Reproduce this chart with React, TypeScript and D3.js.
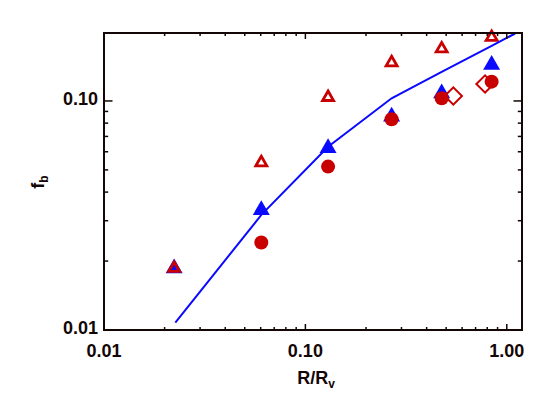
import React, { useEffect, useRef } from "react"
import * as d3 from "d3"

// radial bins (R/Rv) and measured fractions
const radii = [0.0223, 0.0604, 0.1296, 0.268, 0.475, 0.841]
const blueTriangles = [0.0186, 0.0334, 0.0622, 0.0855, 0.108, 0.1437]
const redCircleRadii = [0.0604, 0.1296, 0.268, 0.475, 0.841]
const redCircles = [0.0241, 0.0517, 0.0832, 0.1027, 0.1214]
const redOpenTriangles = [0.0186, 0.0538, 0.1037, 0.147, 0.169, 0.1897]
const diamondRadii = [0.5425, 0.78]
const diamonds = [0.1051, 0.1186]
const modelRadii = [0.0226, 0.0604, 0.1296, 0.268, 0.475, 0.841, 1.1]
const modelValues = [0.01076, 0.0318, 0.0631, 0.1027, 0.134, 0.174, 0.197]

const W = 554
const H = 396
const BLUE = "#0a0aff"
const RED = "#c80000"
const INK = "#140606"
const FONT = "Liberation Sans, Arial, sans-serif"

const App = () => {
	const ref = useRef<SVGSVGElement>(null)

	useEffect(() => {
		const svg = d3.select(ref.current)
		svg.selectAll("*").remove()

		const left = 104
		const right = 522
		const top = 33
		const bottom = 330

		const x = d3.scaleLog().domain([0.01, 1.19]).range([left, right])
		const y = d3.scaleLog().domain([0.01, 0.198]).range([bottom, top])
		const fmt = d3.format(".2f")
		const isMajor = (v: number) => Math.abs(Math.log10(v) - Math.round(Math.log10(v))) < 1e-6

		svg.append("defs")
			.append("clipPath")
			.attr("id", "plot-clip")
			.append("rect")
			.attr("x", left)
			.attr("y", top)
			.attr("width", right - left)
			.attr("height", bottom - top)

		// data points
		svg.append("g")
			.selectAll("path")
			.data(radii)
			.join("path")
			.attr("d", d3.symbol().type(d3.symbolTriangle).size(125)())
			.attr("transform", (d, i) => `translate(${x(d)},${y(blueTriangles[i])})`)
			.attr("fill", BLUE)

		svg.append("g")
			.selectAll("circle")
			.data(redCircleRadii)
			.join("circle")
			.attr("cx", d => x(d))
			.attr("cy", (_, i) => y(redCircles[i]))
			.attr("r", 7)
			.attr("fill", RED)

		svg.append("g")
			.selectAll("path")
			.data(radii)
			.join("path")
			.attr("d", d3.symbol().type(d3.symbolTriangle).size(52)())
			.attr("transform", (d, i) => `translate(${x(d)},${y(redOpenTriangles[i])})`)
			.attr("fill", "none")
			.attr("stroke", RED)
			.attr("stroke-width", 2.8)

		svg.append("g")
			.selectAll("path")
			.data(diamondRadii)
			.join("path")
			.attr("d", d3.symbol().type(d3.symbolSquare).size(150)())
			.attr("transform", (d, i) => `translate(${x(d)},${y(diamonds[i])}) rotate(45)`)
			.attr("fill", "none")
			.attr("stroke", RED)
			.attr("stroke-width", 2)

		// model curve
		const line = d3
			.line<number>()
			.x(d => x(d))
			.y((_, i) => y(modelValues[i]))
		svg.append("path")
			.datum(modelRadii)
			.attr("d", line)
			.attr("clip-path", "url(#plot-clip)")
			.attr("fill", "none")
			.attr("stroke", BLUE)
			.attr("stroke-width", 2)

		// frame
		svg.append("rect")
			.attr("x", left)
			.attr("y", top)
			.attr("width", right - left)
			.attr("height", bottom - top)
			.attr("fill", "none")
			.attr("stroke", INK)
			.attr("stroke-width", 2)

		// x ticks (bottom and top, pointing in)
		const xt = x.ticks()
		const xg = svg.append("g").attr("stroke", INK).attr("stroke-width", 1.5)
		xt.forEach(t => {
			const len = isMajor(t) ? 6 : 3
			xg.append("line").attr("x1", x(t)).attr("x2", x(t)).attr("y1", bottom).attr("y2", bottom - len)
			xg.append("line").attr("x1", x(t)).attr("x2", x(t)).attr("y1", top).attr("y2", top + len)
		})
		svg.append("g")
			.selectAll("text")
			.data(xt.filter(isMajor))
			.join("text")
			.attr("x", d => x(d))
			.attr("y", 357)
			.attr("text-anchor", "middle")
			.style("font-family", FONT)
			.style("font-weight", "bold")
			.style("font-size", "18px")
			.attr("fill", INK)
			.text(d => fmt(d))

		// y ticks (left and right, pointing in)
		const yt = y.ticks()
		const yg = svg.append("g").attr("stroke", INK).attr("stroke-width", 1.5)
		yt.forEach(t => {
			const len = isMajor(t) ? 8.5 : 4.2
			yg.append("line").attr("y1", y(t)).attr("y2", y(t)).attr("x1", left).attr("x2", left + len)
			yg.append("line").attr("y1", y(t)).attr("y2", y(t)).attr("x1", right).attr("x2", right - len)
		})
		svg.append("g")
			.selectAll("text")
			.data(yt.filter(isMajor))
			.join("text")
			.attr("x", 98)
			.attr("y", d => y(d) + 4)
			.attr("text-anchor", "end")
			.style("font-family", FONT)
			.style("font-weight", "bold")
			.style("font-size", "18px")
			.attr("fill", INK)
			.text(d => fmt(d))

		// axis titles
		const xTitle = svg.append("text")
			.attr("x", 316)
			.attr("y", 384)
			.attr("text-anchor", "middle")
			.style("font-family", FONT)
			.style("font-weight", "bold")
			.style("font-size", "18px")
			.attr("fill", INK)
		xTitle.append("tspan").text("R/R")
		xTitle.append("tspan").attr("dy", 4).style("font-size", "12px").text("v")

		const yTitle = svg.append("text")
			.attr("transform", "translate(44,182) rotate(-90)")
			.attr("text-anchor", "middle")
			.style("font-family", FONT)
			.style("font-weight", "bold")
			.style("font-size", "18px")
			.attr("fill", INK)
		yTitle.append("tspan").text("f")
		yTitle.append("tspan").attr("dy", 4).style("font-size", "12px").text("b")
	}, [])

	return (
		<svg
			ref={ref}
			width={W}
			height={H}
			style={{ position: "absolute", left: 0, top: 0, background: "#fff" }}
		></svg>
	)
}

export default App
